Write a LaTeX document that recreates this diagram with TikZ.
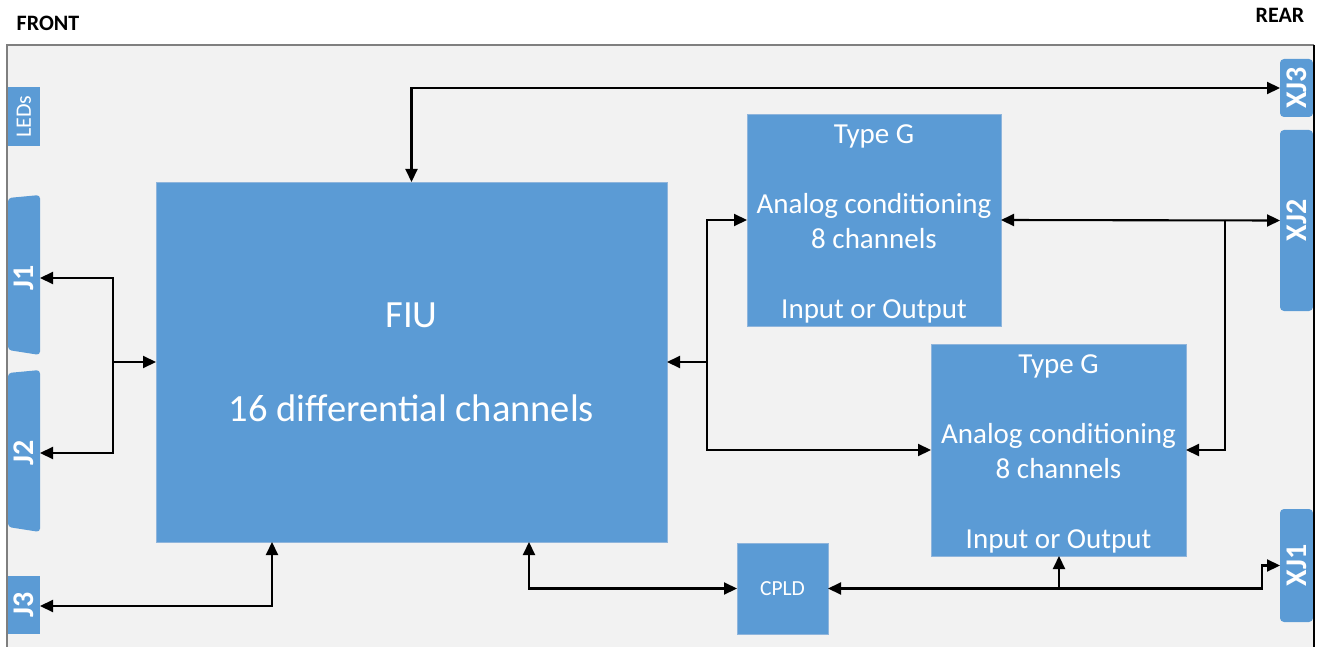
\documentclass[tikz,border=0pt]{standalone}
\usepackage{fontspec}
\setmainfont{Carlito}
\usetikzlibrary{arrows.meta}
\definecolor{boxblue}{HTML}{5B9BD5}
\definecolor{boxedge}{HTML}{8FB5DC}
\definecolor{panel}{HTML}{F2F2F2}
\definecolor{frameline}{HTML}{7F7F7F}
\tikzset{
  blk/.style={fill=boxblue, draw=boxedge, line width=0.8pt, text=white, inner sep=0pt, outer sep=0pt, align=center},
  conn/.style={text=white, inner sep=0pt, outer sep=0pt, font=\fontsize{30}{32}\selectfont\bfseries},
  rconn/.style={conn, fill=boxblue, rounded corners=4pt},
  lnk/.style={line width=2.1pt, black, -{Triangle[length=13pt,width=12pt]}},
  dlnk/.style={line width=2.1pt, black, {Triangle[length=13pt,width=12pt]}-{Triangle[length=13pt,width=12pt]}},
  side/.style={font=\fontsize{22}{26}\selectfont\bfseries, text=black, inner sep=0pt}
}
\begin{document}
\begin{tikzpicture}[x=1pt, y=-1pt]
\useasboundingbox (0,0) rectangle (1317,647);
% frame
\fill[panel] (7,45) rectangle (1314,660);
\draw[frameline, line width=1.2pt] (7,660) -- (7,45) -- (1314,45);
% side labels
\node[side] (front) at (48,23) {FRONT};
\node[side] (rear) at (1280,15) {REAR};
% left connectors
\node[conn, fill=boxblue, minimum width=59pt, minimum height=32pt, font=\fontsize{22}{26}\selectfont, rotate=90] (leds) at (24,116.5) {LEDs};
\fill[boxblue, rounded corners=3.5pt] (8,350) -- (8,198) -- (40,195) -- (40,355) -- cycle;
\fill[boxblue, rounded corners=3.5pt] (8,527) -- (8,373) -- (40,370) -- (40,532) -- cycle;
\node[conn, minimum width=150pt, minimum height=32pt, rotate=90] (J1) at (24,278) {J1};
\node[conn, minimum width=150pt, minimum height=32pt, rotate=90] (J2) at (24,453) {J2};
\node[conn, fill=boxblue, minimum width=58pt, minimum height=32pt, rotate=90] (J3) at (24,605) {J3};
% rear connectors
\node[rconn, minimum width=58pt, minimum height=33pt, rotate=90] (XJ3) at (1296.5,88) {XJ3};
\node[rconn, minimum width=181pt, minimum height=33pt, rotate=90] (XJ2) at (1296.5,220.5) {XJ2};
\node[rconn, minimum width=113pt, minimum height=33pt, rotate=90] (XJ1) at (1296.5,565.5) {XJ1};
\draw[black, line width=1.2pt] (1314,45) -- (1314,660);
% main blocks
\node[blk, minimum width=511pt, minimum height=360pt, font=\fontsize{38.5}{47}\selectfont] (FIU) at (411.5,362) {FIU\\[47pt]16 differential channels};
\node[blk, minimum width=254pt, minimum height=212pt, font=\fontsize{29}{35}\selectfont] (G1) at (874,220) {\rule{0pt}{26pt}Type G\\[35pt]Analog conditioning\\8 channels\\[35pt]Input or Output};
\node[blk, minimum width=255pt, minimum height=212pt, font=\fontsize{29}{35}\selectfont] (G2) at (1058.5,450) {\rule{0pt}{26pt}Type G\\[35pt]Analog conditioning\\8 channels\\[35pt]Input or Output};
\node[blk, minimum width=91pt, minimum height=91pt, font=\fontsize{21.5}{26}\selectfont] (CPLD) at (782.5,588.5) {CPLD};
% junction points
\coordinate (jsplit) at (113,362);
\coordinate (gsplit) at (707,362);
\coordinate (xsplit) at (1225,220);
\coordinate (g2tap) at (1059,588.5);
\coordinate (xj1bend) at (1262,588.5);
\coordinate (j3bend) at (272,604);
\coordinate (cpldbend) at (529,588.5);
% connectors
\draw[dlnk] (FIU.north) |- (XJ3.north);
\draw[lnk] (jsplit) -- (FIU.west);
\draw[lnk] (jsplit) |- (J1.south);
\draw[lnk] (jsplit) |- (J2.south);
\draw[dlnk] ([yshift=-1pt]J3.south) -| (FIU.south -| j3bend);
\draw[dlnk] (FIU.south -| cpldbend) |- (CPLD.west);
\draw[lnk] (gsplit) -- (FIU.east);
\draw[lnk] (gsplit) |- (G1.west);
\draw[lnk] (gsplit) |- (G2.west);
\draw[dlnk] (G1.east) -- (XJ2.north);
\draw[lnk] (xsplit) |- (G2.east);
\draw[dlnk] (CPLD.east) -- (xj1bend) |- (XJ1.north);
\draw[lnk] (g2tap) -- (G2.south -| g2tap);
\end{tikzpicture}
\end{document}
